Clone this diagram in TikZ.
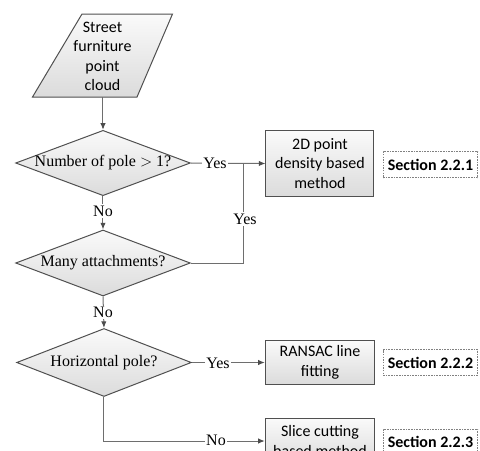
\documentclass[tikz,border=0pt]{standalone}
\usepackage{fontspec}
\setmainfont{Carlito}
\newfontfamily\tnr{Liberation Serif}
\usetikzlibrary{shapes.geometric,arrows.meta}
\definecolor{linec}{HTML}{6E6E6E}
\definecolor{bordc}{HTML}{505050}
\tikzset{
  shade box/.style={top color=white!98!black, bottom color=white!86!black, draw=bordc, line width=0.75pt},
  decision/.style={shade box, diamond, inner sep=0pt, aspect=2.7, minimum width=131pt, minimum height=49pt, font=\tnr\fontsize{12}{14.6}\selectfont},
  proc/.style={shade box, rectangle, inner sep=0pt, align=center, font=\fontsize{12}{14.6}\selectfont},
  sect/.style={draw=gray, dash pattern=on 1.2pt off 0.8pt, line width=0.6pt, fill=white, inner sep=0pt, minimum width=71pt, font=\bfseries\fontsize{12}{14.6}\selectfont},
  conn/.style={draw=linec, line width=0.75pt},
  arr/.style={conn, -{Latex[length=5pt,width=4pt,color=black!70]}},
  lab/.style={fill=white, inner sep=1pt, font=\tnr\fontsize{12}{14.6}\selectfont},
  ptext/.style={align=center, inner sep=0pt, font=\fontsize{12}{14.6}\selectfont}
}
\begin{document}
\begin{tikzpicture}[x=0.75pt, y=-0.75pt]
\useasboundingbox (0,0) rectangle (480,451);
\clip (0,0) rectangle (480,451);
% input parallelogram
\path[shade box] (82,14) -- (172.5,14) -- (137,97) -- (32.5,97) -- cycle;
\node[ptext] (cloud) at (102.5,56.5) {Street\\furniture\\point\\cloud};
\coordinate (cloudbot) at (103,97);
% decisions
\node[decision] (d1) at (103,163) {\makebox[0pt]{Number of pole $>$ 1?}};
\node[decision, minimum height=49.5pt] (d2) at (103,263) {\makebox[0pt]{Many attachments?}};
\node[decision, minimum height=51pt] (d3) at (104,362.5) {\makebox[0pt]{Horizontal pole?}};
% process boxes
\node[proc, minimum width=81pt, minimum height=49pt] (b1) at (320,163.5) {2D point\\density based\\method};
\node[proc, minimum width=82pt, minimum height=32.5pt] (b2) at (320,362.5) {RANSAC line\\fitting};
\node[proc, minimum width=82pt, minimum height=34.5pt, anchor=north] (b3) at (320,417.5) {Slice cutting\\based method};
% section tags
\node[sect, minimum height=20pt] (s1) at (430.5,164.5) {Section 2.2.1};
\node[sect, minimum height=19pt] (s2) at (430.5,362.5) {Section 2.2.2};
\node[sect, minimum height=20pt, anchor=north] (s3) at (430.5,428.5) {Section 2.2.3};
% connectors
\draw[arr] (cloudbot) -- (d1.north);
\draw[arr] (d1.east) -- (b1.west);
\node[lab] (y1) at (215,163) {Yes};
\coordinate (j1) at (243.3,163);
\draw[conn] (d2.east) -- (243.3,263) -- (j1);
\node[lab] (y2) at (245,219) {Yes};
\draw[arr] (d1.south) -- (d2.north);
\node[lab] (n1) at (103,211) {No};
\draw[arr] (d2.south) -- (d3.north);
\node[lab] (n2) at (103,312.5) {No};
\draw[arr] (d3.east) -- (b2.west);
\node[lab] (y3) at (218,363) {Yes};
\draw[arr] (d3.south) |- (b3.west);
\node[lab] (n3) at (216,440.5) {No};
\end{tikzpicture}
\end{document}
